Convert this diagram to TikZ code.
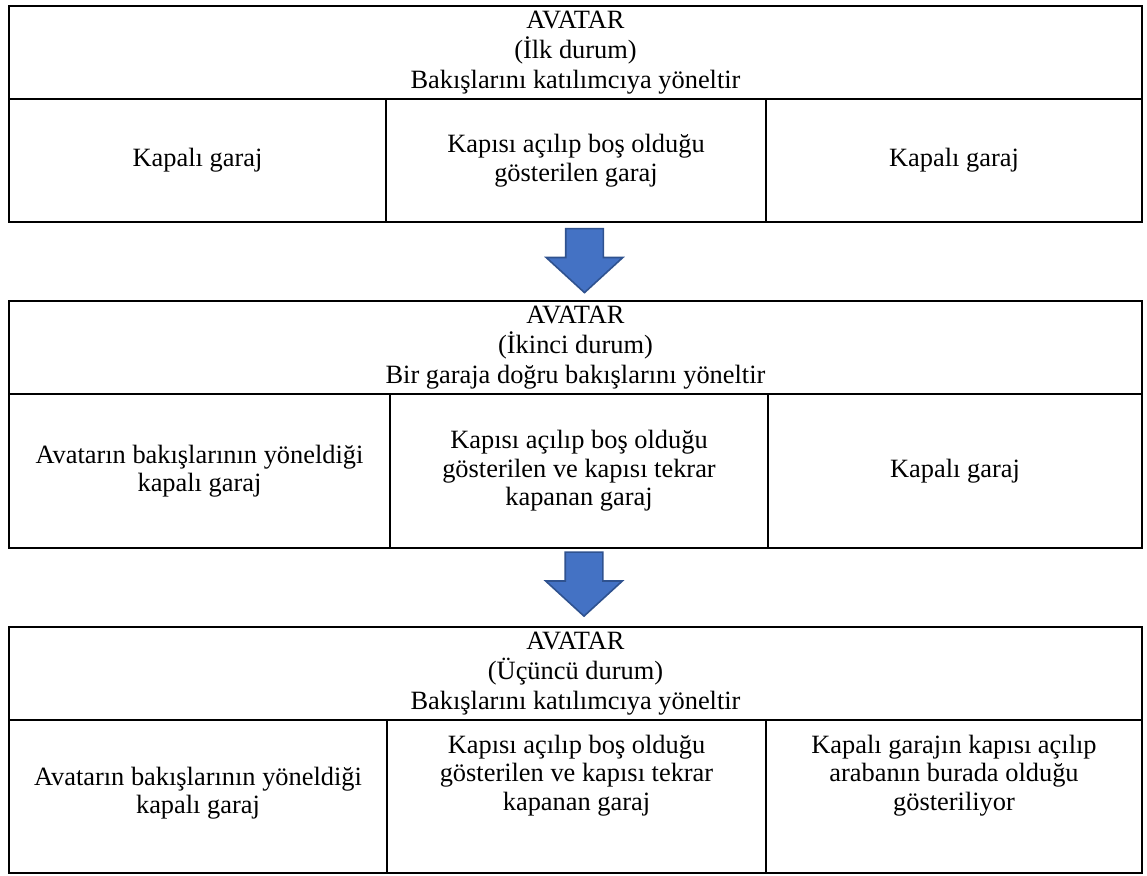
\documentclass[tikz,border=0pt]{standalone}
\usepackage{fontspec}
\setmainfont{Liberation Serif}
\usetikzlibrary{shapes}
\definecolor{arrowblue}{RGB}{68,114,196}
\definecolor{arrowedge}{RGB}{47,82,143}
\tikzstyle{cell}=[draw, line width=0.9pt, inner sep=0pt, align=center, font=\fontsize{13.2}{14.2}\selectfont]
\tikzstyle{headcell}=[cell, font=\fontsize{13.2}{15}\selectfont, minimum width=566.5pt, minimum height=46.5pt]
\tikzstyle{celltext}=[inner sep=0pt, align=center, font=\fontsize{13.2}{14.2}\selectfont]
\tikzstyle{downarrow}=[single arrow, rotate=-90, fill=arrowblue, draw=arrowedge, line width=0.8pt, inner xsep=0pt, inner ysep=9pt, minimum height=32pt, single arrow head extend=9.75pt, single arrow tip angle=95]

\begin{document}
\begin{tikzpicture}[x=0.5pt,y=-0.5pt]
\useasboundingbox (0,0) rectangle (1147,875);
% first state
\node[headcell] (head1) at (575.5,52.5) {AVATAR\\(İlk durum)\\Bakışlarını katılımcıya yöneltir};
\node[cell, minimum width=188.5pt, minimum height=61.5pt] (left1) at (197.5,160.5) {Kapalı garaj};
\node[cell, minimum width=190pt, minimum height=61.5pt] (mid1) at (576,160.5) {Kapısı açılıp boş olduğu\\gösterilen garaj};
\node[cell, minimum width=188pt, minimum height=61.5pt] (right1) at (954,160.5) {Kapalı garaj};
\node[downarrow] (arr1) at (584.5,252) {};
% second state
\node[headcell] (head2) at (575.5,347.5) {AVATAR\\(İkinci durum)\\Bir garaja doğru bakışlarını yöneltir};
\node[cell, minimum width=190.5pt, minimum height=77pt] (left2) at (199.5,471) {Avatarın bakışlarının yöneldiği\\kapalı garaj};
\node[cell, minimum width=189pt, minimum height=77pt] (mid2) at (579,471) {Kapısı açılıp boş olduğu\\gösterilen ve kapısı tekrar\\kapanan garaj};
\node[cell, minimum width=187pt, minimum height=77pt] (right2) at (955,471) {Kapalı garaj};
\node[downarrow] (arr2) at (584,575.5) {};
% third state
\node[headcell] (head3) at (575.5,673.5) {AVATAR\\(Üçüncü durum)\\Bakışlarını katılımcıya yöneltir};
\node[cell, minimum width=189pt, minimum height=76.5pt] (left3) at (198,796.5) {};
\node[cell, minimum width=189.5pt, minimum height=76.5pt] (mid3) at (576.5,796.5) {};
\node[cell, minimum width=188pt, minimum height=76.5pt] (right3) at (954,796.5) {};
\node[celltext] (left3t) at ([yshift=1.75pt]left3.center) {Avatarın bakışlarının yöneldiği\\kapalı garaj};
\node[celltext] (mid3t) at ([yshift=10.5pt]mid3.center) {Kapısı açılıp boş olduğu\\gösterilen ve kapısı tekrar\\kapanan garaj};
\node[celltext] (right3t) at ([yshift=10.5pt]right3.center) {Kapalı garajın kapısı açılıp\\arabanın burada olduğu\\gösteriliyor};
\end{tikzpicture}
\end{document}
